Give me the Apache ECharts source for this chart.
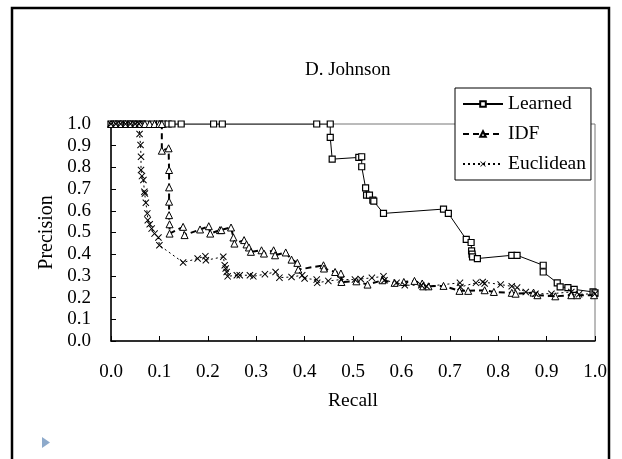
<!DOCTYPE html>
<html>
<head>
<meta charset="utf-8">
<script src="https://cdn.jsdelivr.net/npm/echarts@6/dist/echarts.min.js"></script>
<style>
  html, body { margin: 0; padding: 0; background: #fff; }
  #chart { width: 622px; height: 459px; }
</style>
</head>
<body>
<div id="chart"></div>
<script>
// recall/precision pairs
const learned = [
  [0.0, 1], [0.008, 1], [0.016, 1], [0.024, 1], [0.032, 1], [0.04, 1], [0.048, 1],
  [0.056, 1], [0.064, 1], [0.072, 1], [0.088, 1], [0.1, 1], [0.108, 1], [0.118, 1],
  [0.126, 1], [0.145, 1], [0.212, 1], [0.23, 1], [0.425, 1], [0.453, 1],
  [0.453, 0.938], [0.457, 0.838], [0.512, 0.846], [0.518, 0.849], [0.518, 0.803],
  [0.526, 0.706], [0.528, 0.672], [0.534, 0.672], [0.541, 0.649], [0.543, 0.645],
  [0.563, 0.588], [0.687, 0.608], [0.697, 0.588], [0.734, 0.468], [0.744, 0.454],
  [0.745, 0.415], [0.746, 0.40], [0.747, 0.388], [0.757, 0.38], [0.828, 0.395],
  [0.839, 0.395], [0.893, 0.349], [0.893, 0.318], [0.922, 0.268], [0.928, 0.249],
  [0.944, 0.246], [0.957, 0.238], [0.996, 0.226], [1.0, 0.222]
];
const idf = [
  [0, 1], [0.01, 1], [0.02, 1], [0.03, 1], [0.04, 1], [0.05, 1], [0.06, 1], [0.07, 1],
  [0.08, 1], [0.09, 1], [0.1, 1], [0.105, 1], [0.105, 0.877], [0.119, 0.888],
  [0.12, 0.788], [0.12, 0.708], [0.12, 0.642], [0.12, 0.58], [0.121, 0.538],
  [0.121, 0.495], [0.149, 0.526], [0.152, 0.488], [0.184, 0.514], [0.202, 0.529],
  [0.205, 0.495], [0.225, 0.511], [0.228, 0.511], [0.248, 0.523], [0.253, 0.477],
  [0.255, 0.449], [0.275, 0.465], [0.28, 0.445], [0.285, 0.431], [0.289, 0.411],
  [0.311, 0.418], [0.316, 0.403], [0.336, 0.418], [0.339, 0.395], [0.361, 0.408],
  [0.373, 0.375], [0.385, 0.36], [0.387, 0.329], [0.439, 0.349], [0.44, 0.334],
  [0.463, 0.318], [0.475, 0.311], [0.476, 0.272], [0.507, 0.275], [0.53, 0.26],
  [0.561, 0.28], [0.586, 0.268], [0.605, 0.272], [0.627, 0.277], [0.643, 0.265],
  [0.645, 0.252], [0.656, 0.252], [0.687, 0.254], [0.72, 0.231], [0.738, 0.231],
  [0.772, 0.234], [0.791, 0.226], [0.828, 0.222], [0.836, 0.218], [0.873, 0.223],
  [0.881, 0.211], [0.918, 0.206], [0.951, 0.211], [0.963, 0.211], [0.998, 0.211]
];
const euclidean = [
  [0, 1], [0.01, 1], [0.02, 1], [0.03, 1], [0.04, 1], [0.05, 1], [0.058, 1],
  [0.059, 0.954], [0.061, 0.903], [0.062, 0.849], [0.062, 0.788], [0.064, 0.76],
  [0.067, 0.742], [0.069, 0.688], [0.07, 0.68], [0.072, 0.637], [0.075, 0.588],
  [0.076, 0.557], [0.08, 0.538], [0.084, 0.518], [0.09, 0.495], [0.098, 0.477],
  [0.1, 0.441], [0.149, 0.362], [0.179, 0.38], [0.195, 0.391], [0.196, 0.372],
  [0.232, 0.388], [0.235, 0.349], [0.237, 0.334], [0.239, 0.318], [0.241, 0.298],
  [0.26, 0.303], [0.266, 0.303], [0.287, 0.303], [0.294, 0.298], [0.318, 0.308],
  [0.34, 0.318], [0.348, 0.292], [0.373, 0.295], [0.395, 0.303], [0.4, 0.288],
  [0.425, 0.283], [0.426, 0.268], [0.449, 0.277], [0.475, 0.283], [0.504, 0.283],
  [0.516, 0.286], [0.539, 0.291], [0.563, 0.298], [0.565, 0.28], [0.59, 0.268],
  [0.607, 0.257], [0.641, 0.257], [0.652, 0.252], [0.721, 0.268], [0.722, 0.249],
  [0.754, 0.268], [0.768, 0.272], [0.772, 0.265], [0.805, 0.26], [0.828, 0.252],
  [0.839, 0.246], [0.857, 0.226], [0.877, 0.218], [0.91, 0.218], [0.951, 0.226],
  [0.967, 0.215], [1.0, 0.218]
];

const seriesNames = ['Learned', 'IDF', 'Euclidean'];
const serif = 'Liberation Serif';
const crossPath = 'path://M0,1L1,0L5,4L9,0L10,1L6,5L10,9L9,10L5,6L1,10L0,9L4,5Z';

const chart = echarts.init(document.getElementById('chart'));
chart.setOption({
  animation: false,
  backgroundColor: '#fff',
  textStyle: { fontFamily: serif, color: '#000' },
  title: {
    text: 'D. Johnson',
    left: 305,
    top: 61,
    padding: 0,
    textStyle: { fontFamily: serif, fontSize: 19, fontWeight: 'normal', color: '#000' }
  },
  legend: {
    data: seriesNames,
    orient: 'vertical',
    left: 455,
    top: 88,
    itemWidth: 40,
    itemHeight: 7,
    itemGap: 10,
    padding: [6, 5, 6, 7],
    borderColor: '#000',
    borderWidth: 1,
    borderRadius: 0,
    backgroundColor: '#fff',
    textStyle: { fontFamily: serif, fontSize: 19.5, color: '#000' }
  },
  grid: {
    left: 111, right: 27, top: 124, bottom: 118,
    show: true, borderColor: '#777', borderWidth: 1, backgroundColor: 'transparent'
  },
  xAxis: {
    type: 'value', min: 0, max: 1, interval: 0.1,
    name: 'Recall', nameLocation: 'middle', nameGap: 50,
    nameTextStyle: { fontFamily: serif, fontSize: 19.5, color: '#000' },
    axisLine: { lineStyle: { color: '#000', width: 1.5 } },
    axisTick: { inside: true, length: 5, lineStyle: { color: '#000' } },
    axisLabel: { margin: 22, fontFamily: serif, fontSize: 19, color: '#000',
      formatter: v => v.toFixed(1) },
    splitLine: { show: false }
  },
  yAxis: {
    type: 'value', min: 0, max: 1, interval: 0.1,
    name: 'Precision', nameLocation: 'middle', nameGap: 52,
    nameTextStyle: { fontFamily: serif, fontSize: 20, color: '#000' },
    axisLine: { show: true, lineStyle: { color: '#000', width: 1.5 } },
    axisTick: { show: true, inside: true, length: 5, lineStyle: { color: '#000' } },
    axisLabel: { margin: 20, fontFamily: serif, fontSize: 19, color: '#000',
      formatter: v => v.toFixed(1) },
    splitLine: { show: false }
  },
  graphic: [
    { type: 'rect', shape: { x: 12, y: 8, width: 597, height: 480 },
      style: { fill: 'none', stroke: '#000', lineWidth: 2.5 }, z: 100 },
    { type: 'polygon', shape: { points: [[42, 437], [50, 442.5], [42, 448]] },
      style: { fill: '#8eaacb' } }
  ],
  series: [
    {
      name: 'Learned', type: 'line', data: learned,
      symbol: 'rect', symbolSize: 6, showAllSymbol: true,
      lineStyle: { color: '#000', width: 1, type: 'solid' },
      itemStyle: { color: '#fff', borderColor: '#000', borderWidth: 1.2 }
    },
    {
      name: 'IDF', type: 'line', data: idf,
      symbol: 'triangle', symbolSize: 7, showAllSymbol: true,
      lineStyle: { color: '#000', width: 2, type: [6, 4] },
      itemStyle: { color: '#fff', borderColor: '#000', borderWidth: 1 }
    },
    {
      name: 'Euclidean', type: 'line', data: euclidean,
      symbol: crossPath, symbolSize: 7, showAllSymbol: true,
      lineStyle: { color: '#000', width: 1, type: [2, 3] },
      itemStyle: { color: '#000', borderColor: '#000', borderWidth: 0 }
    }
  ]
});
</script>
</body>
</html>
